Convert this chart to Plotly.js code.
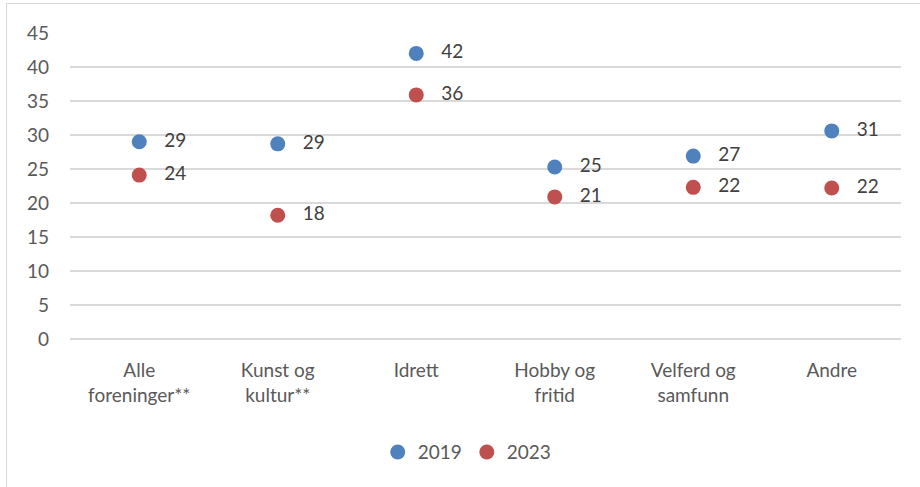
<!DOCTYPE html>
<html>
<head>
<meta charset="utf-8">
<script src="https://cdn.plot.ly/plotly-3.0.1.min.js"></script>
<style>
html,body{margin:0;padding:0;background:#fff;overflow:hidden;width:920px;height:487px;}
#chart{width:920px;height:487px;position:absolute;left:0;top:0;}
#frame{position:absolute;left:6px;top:3px;width:940px;height:520px;border:1.5px solid #d9d9d9;pointer-events:none;}
</style>
</head>
<body>
<div id="chart"></div>
<div id="frame"></div>
<script>
const categories = ["Alle<br>foreninger**", "Kunst og<br>kultur**", "Idrett", "Hobby og<br>fritid", "Velferd og<br>samfunn", "Andre"];
const values2019 = [29.0, 28.7, 42.0, 25.3, 26.9, 30.6];
const values2023 = [24.1, 18.2, 35.9, 20.9, 22.3, 22.2];
const labels2019 = ["29", "29", "42", "25", "27", "31"];
const labels2023 = ["24", "18", "36", "21", "22", "22"];
const yTicks = [0, 5, 10, 15, 20, 25, 30, 35, 40, 45];

const font = "Lato, 'Open Sans', sans-serif";
const pad = s => s.map(t => "   " + t);

const traces = [
  {type:"scatter", mode:"markers+text", name:"2019", x:categories, y:values2019,
   text:pad(labels2019), textposition:"middle right",
   textfont:{family:font, size:19, color:"#404040"},
   marker:{color:"#4f81bd", size:15}, cliponaxis:false},
  {type:"scatter", mode:"markers+text", name:"2023", x:categories, y:values2023,
   text:pad(labels2023), textposition:"middle right",
   textfont:{family:font, size:19, color:"#404040"},
   marker:{color:"#c0504d", size:15}, cliponaxis:false}
];

const layout = {
  width:920, height:487,
  margin:{l:70, r:19, t:33, b:148},
  paper_bgcolor:"rgba(0,0,0,0)", plot_bgcolor:"#fff",
  font:{family:font, size:19, color:"#595959"},
  showlegend:true,
  legend:{orientation:"h", x:0.478, xanchor:"center", y:-0.37, yanchor:"middle",
          font:{family:font, size:19, color:"#595959"}, itemwidth:30, tracegroupgap:0},
  xaxis:{type:"category", range:[-0.5, 5.5], showgrid:false, zeroline:false, showline:false, ticks:"",
         ticklabelstandoff:18,
         tickfont:{family:font, size:19, color:"#595959"}, fixedrange:true},
  yaxis:{range:[0,45], tickvals:yTicks, ticktext:yTicks.map(String), showgrid:true,
         gridcolor:"#d9d9d9", gridwidth:1.5, zeroline:true, zerolinecolor:"#d9d9d9",
         zerolinewidth:1.5, showline:false, ticks:"", ticklabelstandoff:20,
         tickfont:{family:font, size:19, color:"#595959"}, fixedrange:true}
};

Plotly.newPlot("chart", traces, layout, {displayModeBar:false, staticPlot:true});
</script>
</body>
</html>
